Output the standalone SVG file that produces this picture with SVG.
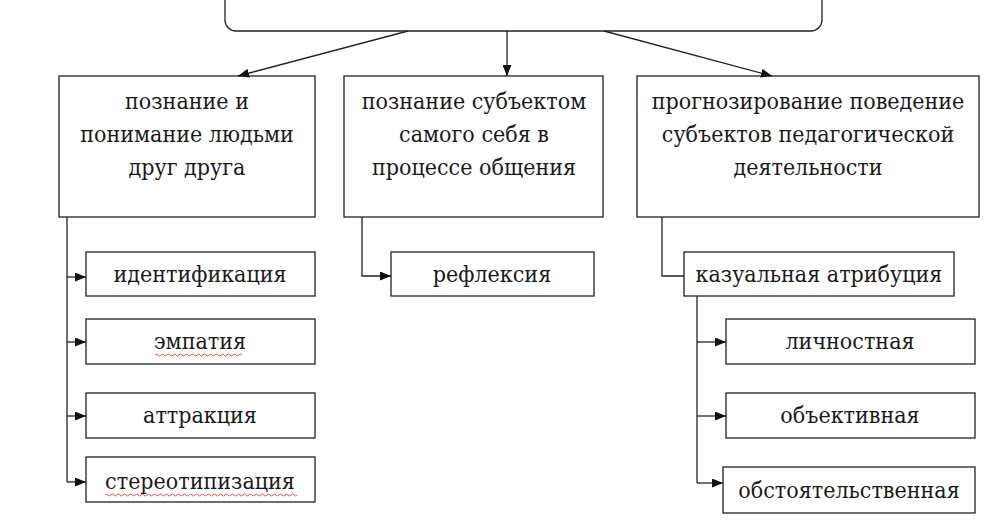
<svg xmlns="http://www.w3.org/2000/svg" width="1001" height="525" viewBox="0 0 1001 525">
<defs>
<marker id="ah" viewBox="0 0 11 9" refX="11" refY="4.5" markerWidth="11" markerHeight="9" markerUnits="userSpaceOnUse" orient="auto">
<path d="M0,0 L11,4.5 L0,9 Z" fill="#111"/>
</marker>
<style>
.box{fill:#fff;stroke:#222;stroke-width:1.3}
.t{font-family:'DejaVu Serif Condensed','DejaVu Serif',serif;font-stretch:condensed;font-size:23px;fill:#1a1a1a;text-anchor:middle}
.c{fill:none;stroke:#222;stroke-width:1.3}
.a{fill:none;stroke:#222;stroke-width:1.3;marker-end:url(#ah)}
.w{fill:none;stroke:#d04040;stroke-width:0.9}
</style>
</defs>
<rect width="1001" height="525" fill="#fff"/>
<g id="root"><rect class="box" x="225" y="-20" width="597" height="51" rx="11"/></g>
<g id="n1"><rect class="box" x="59" y="76" width="256" height="141"/>
<text class="t" x="187" y="109">познание и</text>
<text class="t" x="187" y="142">понимание людьми</text>
<text class="t" x="187" y="175">друг друга</text></g>
<g id="n2"><rect class="box" x="344" y="76" width="259" height="141"/>
<text class="t" x="474" y="109">познание субъектом</text>
<text class="t" x="474" y="142">самого себя в</text>
<text class="t" x="474" y="175">процессе общения</text></g>
<g id="n3"><rect class="box" x="637" y="76" width="342" height="141"/>
<text class="t" x="808" y="109">прогнозирование поведение</text>
<text class="t" x="808" y="142">субъектов педагогической</text>
<text class="t" x="808" y="175">деятельности</text></g>
<g id="s1"><rect class="box" x="86" y="252" width="229" height="44"/><text class="t" x="200" y="282">идентификация</text></g>
<g id="s2"><rect class="box" x="86" y="319" width="229" height="45"/><text class="t" x="200" y="349">эмпатия</text>
<path class="w" d="M155,355 q1.5,-2 3,0 t3,0 t3,0 t3,0 t3,0 t3,0 t3,0 t3,0 t3,0 t3,0 t3,0 t3,0 t3,0 t3,0 t3,0 t3,0 t3,0 t3,0 t3,0 t3,0 t3,0 t3,0 t3,0 t3,0 t3,0 t3,0 t3,0 t3,0 t3,0"/></g>
<g id="s3"><rect class="box" x="86" y="393" width="229" height="45"/><text class="t" x="200" y="423">аттракция</text></g>
<g id="s4"><rect class="box" x="86" y="457" width="229" height="45"/><text class="t" x="200" y="489">стереотипизация</text>
<path class="w" d="M105,495 q1.5,-2 3,0 t3,0 t3,0 t3,0 t3,0 t3,0 t3,0 t3,0 t3,0 t3,0 t3,0 t3,0 t3,0 t3,0 t3,0 t3,0 t3,0 t3,0 t3,0 t3,0 t3,0 t3,0 t3,0 t3,0 t3,0 t3,0 t3,0 t3,0 t3,0 t3,0 t3,0 t3,0 t3,0 t3,0 t3,0 t3,0 t3,0 t3,0 t3,0 t3,0 t3,0 t3,0 t3,0 t3,0 t3,0 t3,0 t3,0 t3,0 t3,0 t3,0 t3,0 t3,0 t3,0 t3,0 t3,0 t3,0 t3,0 t3,0 t3,0 t3,0 t3,0 t3,0 t3,0 t3,0"/></g>
<g id="s5"><rect class="box" x="391" y="252" width="203" height="44"/><text class="t" x="492" y="282">рефлексия</text></g>
<g id="s6"><rect class="box" x="684" y="252" width="270" height="44"/><text class="t" x="819" y="282">казуальная атрибуция</text></g>
<g id="s7"><rect class="box" x="726" y="319" width="249" height="45"/><text class="t" x="850" y="349">личностная</text></g>
<g id="s8"><rect class="box" x="726" y="393" width="249" height="45"/><text class="t" x="850" y="423">объективная</text></g>
<g id="s9"><rect class="box" x="723" y="467" width="252" height="46"/><text class="t" x="849" y="498">обстоятельственная</text></g>
<g id="connectors">
<line class="a" x1="408" y1="31" x2="238" y2="76"/>
<line class="a" x1="507" y1="31" x2="507" y2="76"/>
<line class="a" x1="604" y1="31" x2="772" y2="76"/>
<path class="c" d="M67,217 V482"/>
<line class="a" x1="67" y1="277" x2="86" y2="277"/>
<line class="a" x1="67" y1="342" x2="86" y2="342"/>
<line class="a" x1="67" y1="416" x2="86" y2="416"/>
<line class="a" x1="67" y1="482" x2="86" y2="482"/>
<path class="a" d="M362,217 V276 H391"/>
<path class="c" d="M662,217 V276 H684"/>
<path class="c" d="M697,296 V483"/>
<line class="a" x1="697" y1="342" x2="726" y2="342"/>
<line class="a" x1="697" y1="416" x2="726" y2="416"/>
<line class="a" x1="697" y1="483" x2="723" y2="483"/>
</g>
</svg>
